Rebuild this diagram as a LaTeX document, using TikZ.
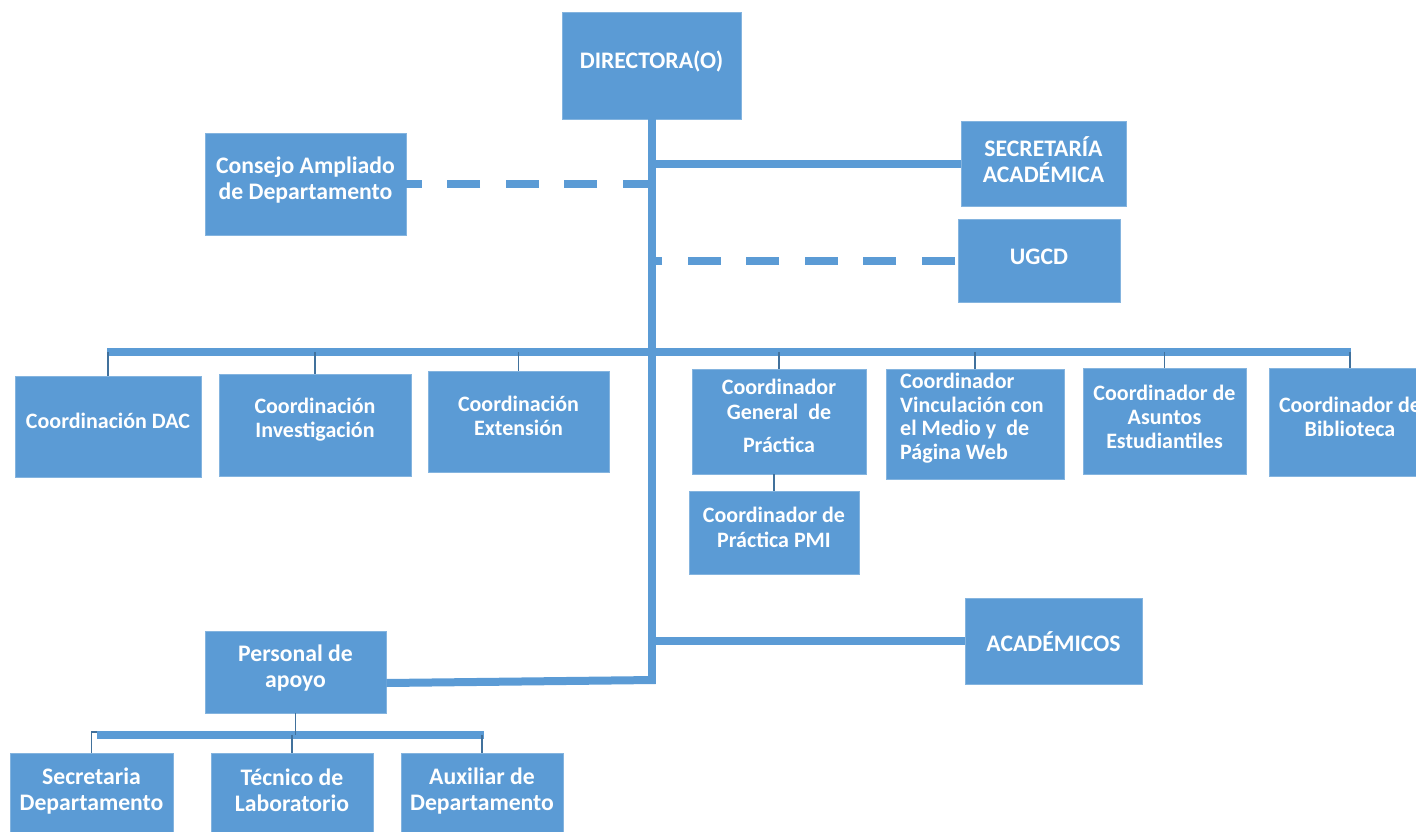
\documentclass[tikz,border=0pt]{standalone}
\usepackage{fontspec}
\setmainfont{Carlito}
\usetikzlibrary{fit}
\definecolor{obox}{HTML}{5B9BD5}
\definecolor{othin}{HTML}{41719C}
\begin{document}
\begin{tikzpicture}[x=1pt,y=-1pt,
  box/.style={fill=obox, draw=obox!75!white, line width=0.8pt, inner sep=0pt},
  txt/.style={text=white, font=\bfseries\fontsize{23.7}{26}\selectfont, align=center, inner sep=0pt},
  txtb/.style={txt, font=\bfseries\fontsize{22}{24}\selectfont},
  thickline/.style={draw=obox, line width=8pt},
  dashline/.style={draw=obox, line width=8pt, dash pattern=on 33pt off 25.5pt},
  thinline/.style={draw=othin, line width=1.5pt}]
\path[use as bounding box, clip] (0,0) rectangle (1416,832);

% boxes
\node[box, fit={(562,12)(741,119)}] (dir) {};
\node[box, fit={(205,133)(406,235)}] (cons) {};
\node[box, fit={(961,121)(1126,206)}] (sec) {};
\node[box, fit={(958,219)(1120,302)}] (ugcd) {};
\node[box, fit={(15,376)(201,477)}] (dac) {};
\node[box, fit={(219,374)(411,476)}] (inv) {};
\node[box, fit={(428,371)(609,472)}] (ext) {};
\node[box, fit={(692,369)(866,474)}] (gen) {};
\node[box, fit={(689,491)(859,574)}] (pmi) {};
\node[box, fit={(886,369)(1064,479)}] (vin) {};
\node[box, fit={(1083,368)(1246,474)}] (asu) {};
\node[box, fit={(1269,368)(1431,476)}] (bib) {};
\node[box, fit={(965,598)(1142,684)}] (acad) {};
\node[box, fit={(205,631)(386,713)}] (pers) {};
\node[box, fit={(10,753)(173,845)}] (secd) {};
\node[box, fit={(211,753)(373,845)}] (tec) {};
\node[box, fit={(401,753)(563,845)}] (aux) {};

% texts
\node[txt] (tdir) at ([yshift=4pt]dir.center) {DIRECTORA(O)};
\node[txt] (tcons) at ([yshift=3.5pt]cons.center) {Consejo Ampliado\\de Departamento};
\node[txt] (tsec) at ([yshift=4pt]sec.center) {SECRETARÍA\\ACADÉMICA};
\node[txt] (tugcd) at ([yshift=4pt]ugcd.center) {UGCD};
\node[txtb] (tdac) at ([yshift=6pt]dac.center) {Coordinación DAC};
\node[txtb] (tinv) at ([yshift=5pt]inv.center) {Coordinación\\Investigación};
\node[txtb] (text) at ([yshift=5.5pt]ext.center) {Coordinación\\Extensión};
\node[txtb, font=\bfseries\fontsize{22}{25}\selectfont] (tgen) at ([yshift=6pt]gen.center) {Coordinador\\General~ de\\[8pt]Práctica};
\node[txtb, align=left, anchor=west, font=\bfseries\fontsize{22}{23.7}\selectfont] (tvin) at (900,418) {Coordinador\\Vinculación con\\el Medio y~ de\\Página Web};
\node[txtb] (tasu) at ([yshift=4.5pt]asu.center) {Coordinador de\\Asuntos\\Estudiantiles};
\node[txtb] (tbib) at ([yshift=5pt]bib.center) {Coordinador de\\Biblioteca};
\node[txtb, font=\bfseries\fontsize{22}{25}\selectfont] (tpmi) at ([yshift=5.5pt]pmi.center) {Coordinador de\\Práctica PMI};
\node[txt] (tacad) at ([yshift=-1pt]acad.center) {ACADÉMICOS};
\node[txt] (tpers) at ([yshift=4pt]pers.center) {Personal de\\apoyo};
\node[txt] (tsecd) at ([yshift=-38pt]secd.north) {Secretaria\\Departamento};
\node[txt] (ttec) at ([yshift=-38pt]tec.north) {Técnico de\\Laboratorio};
\node[txt] (taux) at ([yshift=-38pt]aux.north) {Auxiliar de\\Departamento};

% connectors
\coordinate (trunkEnd) at (651.5,684);
\coordinate (pJoin) at (655.5,680);
\coordinate (busL) at (107,352);
\coordinate (busR) at (1351,352);
\coordinate (pbusL) at (97,735);
\coordinate (pbusR) at (484,735);

\draw[thickline] (dir.south) -- (trunkEnd);
\draw[thickline] (sec.west -| dir.south) -- (sec.west);
\draw[dashline] ([xshift=-3pt]ugcd.west) -- (ugcd.west -| dir.south);
\draw[dashline] ([xshift=4pt]cons.east -| dir.south) -- (cons.east);
\draw[thickline] (acad.west -| dir.south) -- (acad.west);
\draw[thickline] ([yshift=-11pt]pers.east) -- (pJoin);
\draw[thickline] (busL) -- (busR);

\foreach \b in {dac,inv,ext,gen,vin,asu,bib}
  \draw[thinline] (\b.north |- busL) -- (\b.north);
\draw[thinline] (pmi.north |- gen.south) -- (pmi.north);

\draw[thickline] (pbusL) -- (pbusR);
\draw[thinline] (pers.south) -- (pers.south |- pbusL);
\draw[thinline] ([yshift=3pt]pbusL) -| (secd.north);
\draw[thinline] (tec.north |- pbusL) -- (tec.north);
\draw[thinline] (aux.north |- pbusL) -- (aux.north);
\end{tikzpicture}
\end{document}
